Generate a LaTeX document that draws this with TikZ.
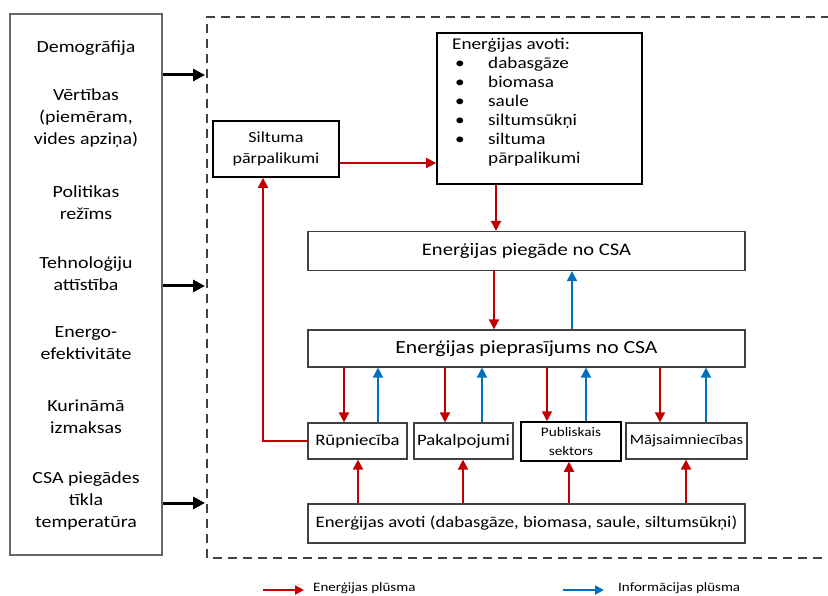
\documentclass[tikz,border=0pt]{standalone}
\usepackage{fontspec}
\setmainfont[FakeStretch=1.17]{Carlito}
\usetikzlibrary{arrows.meta}
\definecolor{flowred}{HTML}{C00000}
\definecolor{flowblue}{HTML}{0070C0}
\definecolor{boxgray}{HTML}{404040}
\tikzset{
  thinbox/.style={draw=boxgray, line width=1.2pt, fill=white, inner sep=0pt, align=center},
  boldbox/.style={draw=black, line width=1.8pt, fill=white, inner sep=0pt, align=center},
  lbl/.style={inner sep=0pt, align=center, font=\fontsize{17}{22}\selectfont},
  ea/.style={draw=flowred, line width=1.8pt, -{Triangle[length=10pt,width=10pt]}},
  ia/.style={draw=flowblue, line width=1.8pt, -{Triangle[length=10pt,width=10pt]}},
  ka/.style={draw=black, line width=3pt, -{Triangle[length=12pt,width=12pt]}},
}
\begin{document}
\begin{tikzpicture}[x=1pt,y=-1pt]
\useasboundingbox (0,0) rectangle (828,596);

% system boundary
\draw[boxgray, line width=1.2pt, dash pattern=on 9pt off 6pt]
  (830,17) -- (207,17) -- (207,558) -- (830,558);

% driving factors
\node[draw=boxgray!80, line width=1.5pt, minimum width=152pt, minimum height=541pt, inner sep=0pt] (factors) at (86,284.5) {};
\node[lbl] (f1) at (86,48) {Demogrāfija};
\node[lbl] (f2) at (86,118) {Vērtības\\(piemēram,\\vides apziņa)};
\node[lbl] (f3) at (86,203) {Politikas\\režīms};
\node[lbl] (f4) at (86,274) {Tehnoloģiju\\attīstība};
\node[lbl] (f5) at (86,343.5) {Energo-\\efektivitāte};
\node[lbl] (f6) at (86,416.5) {Kurināmā\\izmaksas};
\node[lbl] (f7) at (86,500.5) {CSA piegādes\\tīkla\\temperatūra};

\coordinate (b1) at (205,75);
\coordinate (b2) at (205,286);
\coordinate (b3) at (205,503);
\draw[ka] (b1 -| factors.east) -- (b1);
\draw[ka] (b2 -| factors.east) -- (b2);
\draw[ka] (b3 -| factors.east) -- (b3);

% heat surplus and energy sources
\node[boldbox, minimum width=126pt, minimum height=56pt, font=\fontsize{15.4}{21}\selectfont] (surplus) at (276,149) {Siltuma\\pārpalikumi};
\node[boldbox, minimum width=205pt, minimum height=151pt] (sources) at (539.5,108.5) {};
\node[anchor=north west, inner sep=0pt, align=left, font=\fontsize{16.4}{19}\selectfont] (srclist) at (452,38)
  {Enerģijas avoti:\\
   \hspace*{3pt}\makebox[33pt][l]{\textbullet}dabasgāze\\
   \hspace*{3pt}\makebox[33pt][l]{\textbullet}biomasa\\
   \hspace*{3pt}\makebox[33pt][l]{\textbullet}saule\\
   \hspace*{3pt}\makebox[33pt][l]{\textbullet}siltumsūkņi\\
   \hspace*{3pt}\makebox[33pt][l]{\textbullet}siltuma\\
   \hspace*{36pt}pārpalikumi};

% supply and demand
\node[thinbox, minimum width=437pt, minimum height=39pt, font=\fontsize{17.6}{23}\selectfont] (supply) at (526.5,251) {Enerģijas piegāde no CSA};
\node[thinbox, minimum width=437pt, minimum height=37pt, font=\fontsize{18.5}{23}\selectfont] (demand) at (526.5,348.5) {Enerģijas pieprasījums no CSA};

% consumer sectors
\node[thinbox, minimum width=99pt, minimum height=36pt, font=\fontsize{16}{20}\selectfont] (rup) at (357.5,441) {Rūpniecība};
\node[thinbox, minimum width=99pt, minimum height=36pt, font=\fontsize{16}{20}\selectfont] (pak) at (463.5,441) {Pakalpojumi};
\node[boldbox, line width=1.5pt, minimum width=100pt, minimum height=39pt, font=\fontsize{13}{19}\selectfont] (pub) at (571,441.5) {Publiskais\\sektors};
\node[thinbox, minimum width=121pt, minimum height=36pt, font=\fontsize{14.3}{20}\selectfont] (maj) at (686.5,441) {Mājsaimniecības};

% local energy sources
\node[thinbox, minimum width=437pt, minimum height=39pt, font=\fontsize{16}{20}\selectfont] (local) at (526.5,523.5) {Enerģijas avoti (dabasgāze, biomasa, saule, siltumsūkņi)};

% energy flows
\draw[ea] (surplus.east |- 0,163) -- (sources.west |- 0,163);
\coordinate (s1) at (496,0);
\draw[ea] (s1 |- sources.south) -- (s1 |- supply.north);
\coordinate (s2) at (494,0);
\coordinate (s3) at (572,0);
\draw[ea] (s2 |- supply.south) -- (s2 |- demand.north);
\draw[ia] (s3 |- demand.north) -- (s3 |- supply.south);

\foreach \sec/\dn/\up/\src in {rup/344/378/358, pak/445/482/463, pub/547/586/569, maj/660/706/686}{
  \coordinate (d) at (\dn,0);
  \coordinate (u) at (\up,0);
  \coordinate (e) at (\src,0);
  \draw[ea] (d |- demand.south) -- (d |- \sec.north);
  \draw[ia] (u |- \sec.north) -- (u |- demand.south);
  \draw[ea] (e |- local.north) -- (e |- \sec.south);
}

% heat surplus from industry
\coordinate (hx) at (263,0);
\draw[ea] (rup.west) -- (hx |- rup.west) -- (hx |- surplus.south);

% legend
\coordinate (l1a) at (263,590);
\coordinate (l1b) at (304,590);
\coordinate (l2a) at (563,590);
\coordinate (l2b) at (604,590);
\draw[ea, -{Triangle[length=9pt,width=9pt]}] (l1a) -- (l1b);
\draw[ia, -{Triangle[length=9pt,width=9pt]}] (l2a) -- (l2b);
\node[anchor=west, inner sep=0pt, font=\fontsize{12.8}{15}\selectfont] (leg1) at (313,588) {Enerģijas plūsma};
\node[anchor=west, inner sep=0pt, font=\fontsize{12.8}{15}\selectfont] (leg2) at (618,588) {Informācijas plūsma};
\end{tikzpicture}
\end{document}
